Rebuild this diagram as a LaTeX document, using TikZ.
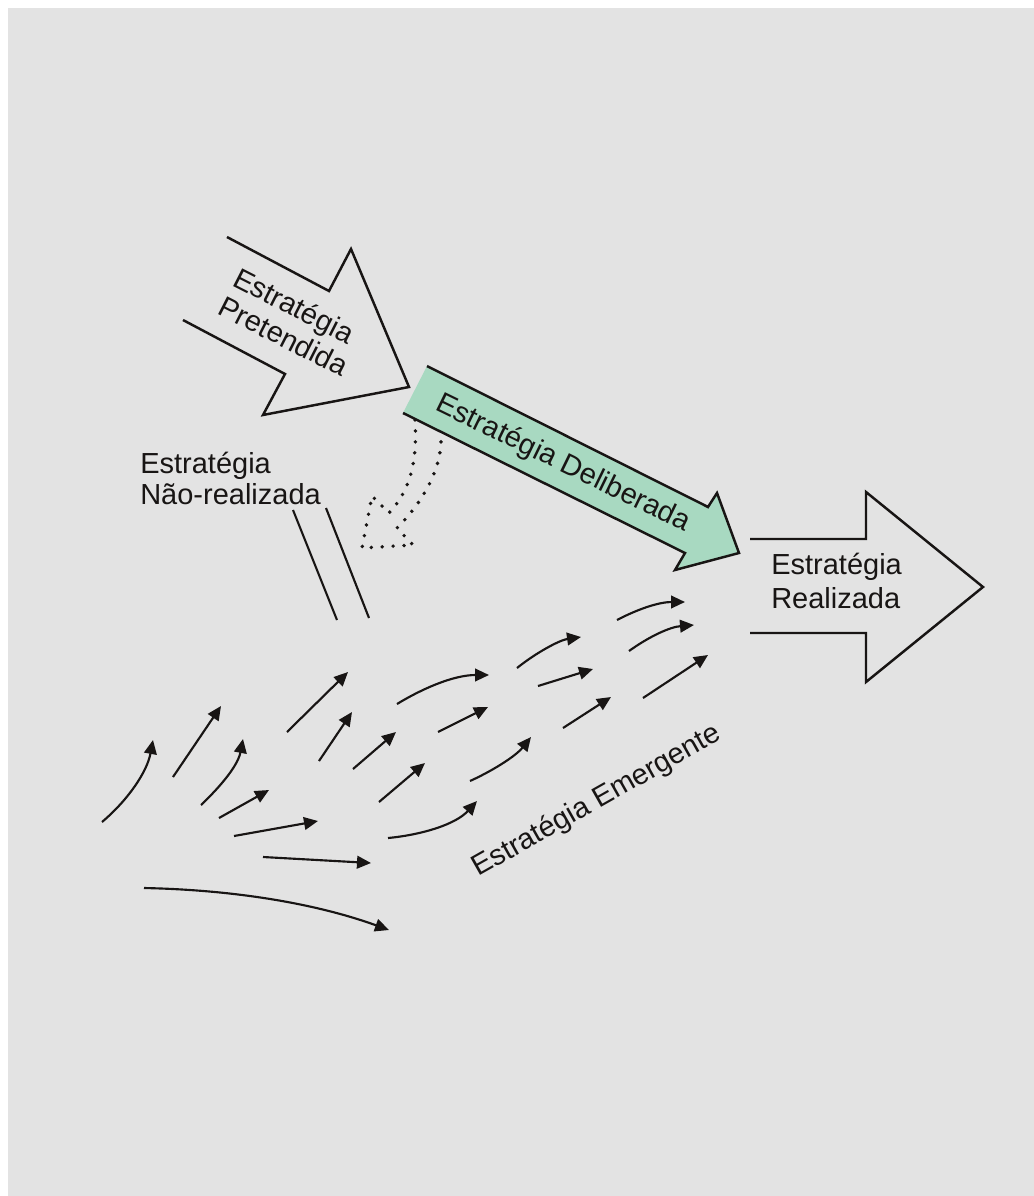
\documentclass[tikz,border=0pt]{standalone}
\usepackage{fontspec}
\setmainfont{Liberation Sans}
\usetikzlibrary{arrows.meta}
\definecolor{bggray}{RGB}{227,227,227}
\definecolor{mint}{RGB}{168,217,193}
\definecolor{ink}{RGB}{24,21,20}
\tikzset{
  lbl/.style={font=\fontsize{21.75}{26}\selectfont, inner sep=0pt, text=ink},
  outline/.style={draw=ink, line width=1.85pt, line join=miter},
  dotline/.style={draw=ink, line width=2.9pt, line cap=round, dash pattern=on 0pt off 8.2pt},
  flow/.style={draw=ink, line width=1.6pt, -{Triangle[length=10.5pt,width=9.5pt]}},
}
\begin{document}
\begin{tikzpicture}[x=0.75pt,y=-0.75pt]
\useasboundingbox (0,0) rectangle (1034,1196);
\fill[bggray] (8,8) rectangle (1034,1196);

% intended strategy: open block arrow
\draw[outline] (227,237) -- (329,291) -- (351,249) -- (409,387) -- (263,415) -- (285,374) -- (183,320);
\node[lbl, anchor=base west, rotate=-27] (pre1) at (231,285) {Estratégia};
\node[lbl, anchor=base west, rotate=-27] (pre2) at (216.5,313.5) {Pretendida};

% deliberate strategy: filled block arrow
\fill[mint] (427,366) -- (708,507) -- (717,493) -- (739,553) -- (675,570) -- (685,553) -- (403,413) -- cycle;
\draw[outline] (427,366) -- (708,507) -- (717,493) -- (739,553) -- (675,570) -- (685,553) -- (403,413);
\node[lbl, rotate=-26] (del) at (563,464) {Estratégia Deliberada};

% unrealized strategy: dotted curved arrow
\draw[dotline] (415,420) .. controls (418,465) and (408,493) .. (389,513) -- (372,496) -- (362,548) -- (413,545) -- (397,528) .. controls (420,505) and (443,470) .. (441,434);
\node[lbl, anchor=base west] (nr1) at (140,473) {Estratégia};
\node[lbl, anchor=base west] (nr2) at (140,504) {Não-realizada};
\draw[ink, line width=1.6pt] (293,510) -- (337,620);
\draw[ink, line width=1.6pt] (326,508) -- (369,618);

% realized strategy: open block arrow
\draw[outline] (750,539) -- (866,539) -- (866,492) -- (983,587) -- (866,682) -- (866,633) -- (750,633);
\node[lbl, anchor=base west] (re1) at (771,574) {Estratégia};
\node[lbl, anchor=base west] (re2) at (771,608) {Realizada};

% emergent strategy: field of small arrows
\draw[flow] (102,822) .. controls (128,800) and (147,772) .. (153,740);
\draw[flow] (173,777) -- (221,706);
\draw[flow] (201,805) .. controls (222,785) and (238,765) .. (243,739);
\draw[flow] (219,818) -- (269,790);
\draw[flow] (234,836) -- (318,821);
\draw[flow] (263,857) -- (371,863);
\draw[flow] (144,888) .. controls (240,890) and (320,905) .. (389,930);
\draw[flow] (287,732) -- (348,672);
\draw[flow] (319,761) -- (352,712);
\draw[flow] (353,769) -- (396,732);
\draw[flow] (379,802) -- (425,763);
\draw[flow] (397,704) .. controls (425,687) and (455,675) .. (489,675);
\draw[flow] (438,732) -- (488,707);
\draw[flow] (388,838) .. controls (420,835) and (455,825) .. (477,801);
\draw[flow] (470,781) .. controls (490,772) and (515,757) .. (531,737);
\draw[flow] (517,668) .. controls (537,652) and (560,640) .. (581,637);
\draw[flow] (538,686) -- (593,669);
\draw[flow] (563,728) -- (611,697);
\draw[flow] (617,620) .. controls (640,608) and (660,602) .. (685,602);
\draw[flow] (629,651) .. controls (650,636) and (670,627) .. (694,625);
\draw[flow] (643,698) -- (708,655);
\node[lbl, rotate=29.5] (eme) at (597,801) {Estratégia Emergente};
\end{tikzpicture}
\end{document}
